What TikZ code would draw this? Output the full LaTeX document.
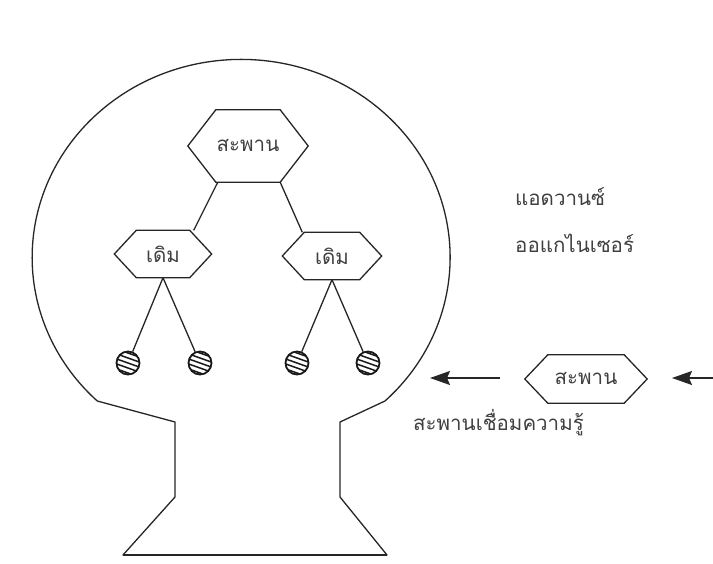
\documentclass[tikz,border=0pt]{standalone}
\usepackage{fontspec}
\newfontfamily\thaifont[Script=Thai]{Loma}
\usetikzlibrary{arrows.meta,calc}
\tikzset{
  outline/.style={line width=1.3pt, draw=black!85},
  hexbox/.style={rectangle, inner sep=0pt, font=\thaifont\fontsize{20.5}{23}\selectfont, text=black!75},
  hexline/.style={line width=1.3pt, draw=black!85},
  link/.style={line width=1.3pt, draw=black!85},
  ball/.style={circle, draw=black!90, line width=1.8pt, minimum size=23pt, inner sep=0pt,
    path picture={\foreach \k in {-2,...,2}{\draw[line width=1.5pt] ([shift={(-14pt,\k*5pt+5pt)}]path picture bounding box.center) -- ++(28pt,-10pt);}}},
  lbl/.style={font=\thaifont\fontsize{20.5}{23}\selectfont, text=black!75, inner sep=0pt},
  arr/.style={line width=1.4pt, draw=black!85, -{Stealth[length=20pt, width=14pt, inset=3pt]}}
}
\newcommand{\hexnode}[6]{%
  \node[hexbox, minimum width=#3, minimum height=#4] (#1) at #2 {#6};
  \draw[hexline] (#1.west) -- ([xshift=#5]#1.north west) -- ([xshift=-#5]#1.north east) -- (#1.east) -- ([xshift=-#5]#1.south east) -- ([xshift=#5]#1.south west) -- cycle;}
\begin{document}
\begin{tikzpicture}[x=1pt,y=-1pt]
\useasboundingbox[fill=white] (0,0) rectangle (713,564);
% head outline
\draw[outline, line join=round] (175,497) -- (123,555) -- (387,555) -- (340,497) -- (340,422) -- (385,401)
  arc[start angle=-46.5, end angle=226.5, x radius=209pt, y radius=198pt] -- (175,422) -- cycle;
\draw[line width=2pt, black!85] (123,555) -- (387,555);
% hexagons
\hexnode{top}{(248,146)}{120pt}{72pt}{28pt}{สะพาน}
\hexnode{oldL}{(163,254)}{97pt}{47pt}{22pt}{เดิม}
\hexnode{oldR}{(332,256)}{99pt}{47pt}{22pt}{เดิม}
\hexnode{bridge}{(586,379)}{122pt}{48pt}{23pt}{สะพาน}
% links
\draw[link] ([xshift=30pt]top.south west) -- ([xshift=-18pt]oldL.north east);
\draw[link] ([xshift=-28pt]top.south east) -- ([xshift=20pt]oldR.north west);
% balls
\node[ball] (b1) at (128,363) {};
\node[ball] (b2) at (200,363) {};
\node[ball] (b3) at (297,363) {};
\node[ball] (b4) at (368,363) {};
\draw[link] (oldL.south) -- (b1);
\draw[link] (oldL.south) -- (b2);
\draw[link] (oldR.south) -- (b3);
\draw[link] (oldR.south) -- (b4);
% arrows
\coordinate (a1s) at (500,378);
\coordinate (a1e) at (430,378);
\coordinate (a2s) at (713,378);
\coordinate (a2e) at (672,378);
\draw[arr] (a1s) -- (a1e);
\draw[arr] (a2s) -- (a2e);
% labels
\node[lbl, anchor=west] (adv) at (515,197) {แอดวานซ์};
\node[lbl, anchor=west] (org) at (515,243) {ออแกไนเซอร์};
\node[lbl, anchor=west] (cap) at (413,423) {สะพานเชื่อมความรู้};
\end{tikzpicture}
\end{document}
